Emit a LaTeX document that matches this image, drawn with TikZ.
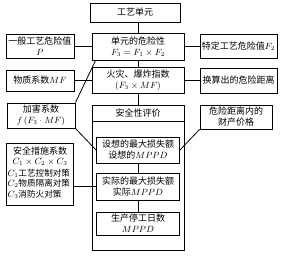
\documentclass[tikz,border=0pt]{standalone}
\usepackage{fontspec}
\newfontfamily\cjk{Noto Sans CJK SC}
\usetikzlibrary{calc}
\begin{document}
\begin{tikzpicture}[x=1pt,y=-1pt,
  box/.style={draw, line width=0.9pt, inner sep=0pt, align=center,
    font=\cjk\fontsize{9}{11}\selectfont},
  txt/.style={inner sep=0pt, font=\cjk\fontsize{9}{11}\selectfont},
  smalltxt/.style={inner sep=0pt, anchor=west, font=\cjk\fontsize{8.6}{11}\selectfont},
  link/.style={line width=0.8pt}]
\useasboundingbox (0,0) rectangle (281,256);
% centre column
\node[box, minimum width=90, minimum height=19] (top) at (135,12.5) {工艺单元};
\node[box, minimum width=92, minimum height=27] (danyuan) at (138,46.5) {单元的危险性\\$F_3=F_1\times F_2$};
\node[box, minimum width=92, minimum height=26] (huozai) at (138,80) {火灾、爆炸指数\\$(F_3\times MF)$};
\node[box, minimum width=92, minimum height=145] (anquan) at (138,177.5) {};
\node[txt] (anquanT) at (138,113.5) {安全性评价};
\draw[line width=0.9pt] ($(anquan.north west)+(0,17)$) -- ($(anquan.north east)+(0,17)$);
\node[box, minimum width=83, minimum height=26] (shexiang) at (138,150) {设想的最大损失额\\设想的$MPPD$};
\node[box, minimum width=83, minimum height=27] (shiji) at (138,186.5) {实际的最大损失额\\实际$MPPD$};
\node[box, minimum width=83, minimum height=23] (shengchan) at (138,223.5) {生产停工日数\\$MPPD$};
% left column
\node[box, minimum width=68, minimum height=24] (yiban) at (40,46) {一般工艺危险值\\$P$};
\node[box, minimum width=68, minimum height=21] (wuzhi) at (40,80.5) {物质系数$MF$};
\node[box, minimum width=68, minimum height=25] (jiahai) at (41,115.5) {加害系数\\$f\,(F_3\cdot MF)$};
\node[box, minimum width=67, minimum height=62] (cuoshi) at (40,174) {};
\node[txt] (cuoshiA) at (40,151.5) {安全措施系数};
\node[txt] (cuoshiB) at (40,162) {$C_1\times C_2\times C_3$};
\node[smalltxt] (cuoshiC) at (7.5,173) {$C_1$工艺控制对策};
\node[smalltxt] (cuoshiD) at (7.5,183.5) {$C_2$物质隔离对策};
\node[smalltxt] (cuoshiE) at (7.5,194) {$C_3$消防火对策};
% right column
\node[box, minimum width=77, minimum height=24] (teding) at (238.5,46) {特定工艺危险值$F_2$};
\node[box, minimum width=77, minimum height=25] (huansuan) at (238.5,80.5) {换算出的危险距离};
\node[box, minimum width=72, minimum height=24] (caichan) at (236,117) {危险距离内的\\财产价格};
% connectors
\draw[link] (top.south -| danyuan.north) -- (danyuan.north);
\draw[link] (yiban.east) -- (yiban.east -| danyuan.west);
\draw[link] (teding.west) -- (teding.west -| danyuan.east);
\draw[link] (danyuan.south) -- (huozai.north);
\draw[link] (wuzhi.east) -- (wuzhi.east -| huozai.west);
\draw[link] (huansuan.west) -- (huansuan.west -| huozai.east);
\draw[link] (huozai.south) -- (anquan.north);
\draw[link] ($(danyuan.south west)+(4,0)$) -- (jiahai.north east);
\draw[link] (jiahai.south east) -- (shexiang.west);
\draw[link] (caichan.south west) -- (shexiang.east);
\draw[link] (shexiang.south) -- (shiji.north);
\draw[link] (cuoshi.east |- shiji.west) -- (shiji.west);
\draw[link] (shiji.south) -- (shengchan.north);
\end{tikzpicture}
\end{document}
